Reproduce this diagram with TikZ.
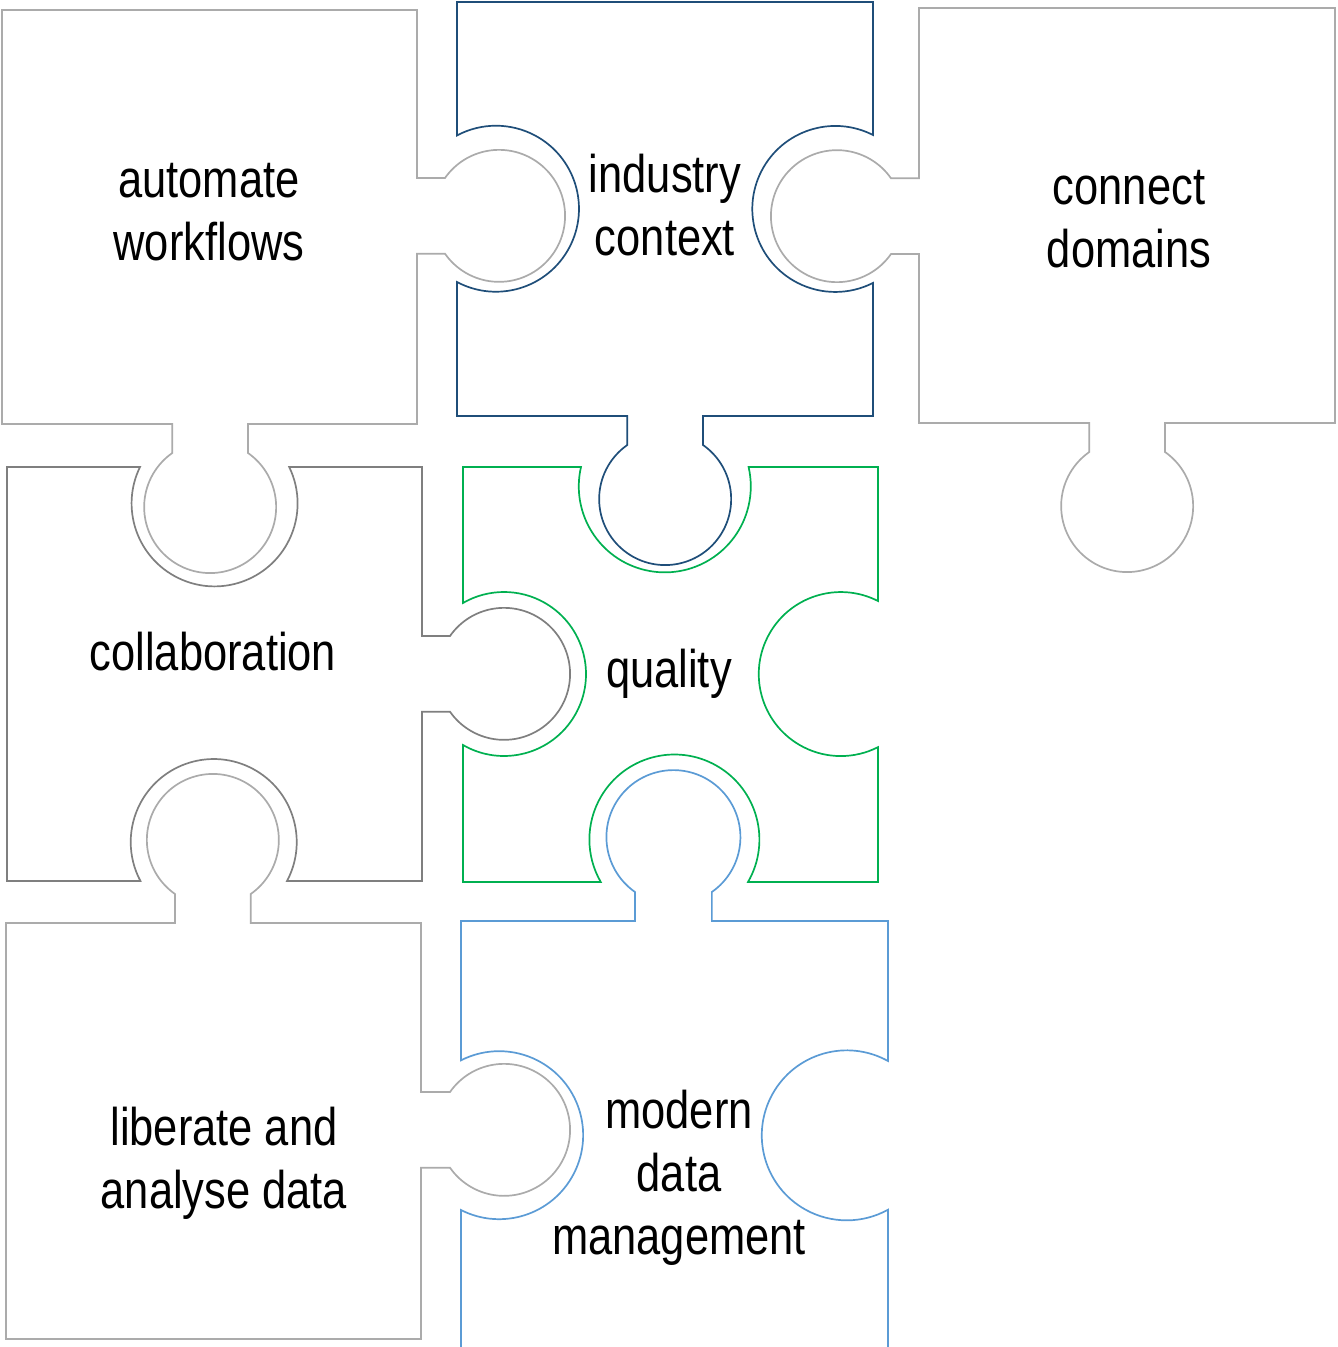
\documentclass[tikz,border=0pt]{standalone}
\usepackage{fontspec}
\newfontfamily\puzzlefont[FakeStretch=0.82]{Liberation Sans}
\definecolor{pzlight}{HTML}{ABABAB}
\definecolor{pzmid}{HTML}{7F7F7F}
\definecolor{pzdark}{HTML}{1F4E79}
\definecolor{pzgreen}{HTML}{00B050}
\definecolor{pzblue}{HTML}{5B9BD5}
\tikzset{
  piece/.style={line width=1.7pt, line join=miter},
  word/.style={align=center, inner sep=0pt, font=\puzzlefont\fontsize{53}{63}\selectfont}
}

\begin{document}
\begin{tikzpicture}[x=1pt, y=-1pt]
\useasboundingbox (0,0) rectangle (1338,1347);
% top row
\draw[piece, pzlight] (2,10) -- (417,10) -- (417,178) -- ++(28,0) arc[start angle=-145, end angle=145, radius=66] -- ++(-28,0) -- (417,424) -- (248,424) -- ++(0,29) arc[start angle=-55, end angle=235, radius=66] -- ++(0,-29) -- (2,424) -- cycle;
\draw[piece, pzdark] (457,2) -- (873,2) -- (873,135) arc[start angle=-63, end angle=-297, radius=83] -- (873,416) -- (703,416) -- ++(0,29) arc[start angle=-55, end angle=235, radius=66] -- ++(0,-29) -- (457,416) -- (457,282) arc[start angle=118, end angle=-118, radius=83] -- cycle;
\draw[piece, pzlight] (919,8) -- (1335,8) -- (1335,423) -- (1165,423) -- ++(0,29) arc[start angle=-55, end angle=235, radius=66] -- ++(0,-29) -- (919,423) -- (919,254) -- ++(-28,0) arc[start angle=35, end angle=325, radius=66] -- ++(28,0) -- cycle;
% middle row
\draw[piece, pzmid] (7,467) -- (140,467) arc[start angle=206, end angle=-26, radius=83] -- (422,467) -- (422,636) -- ++(28,0) arc[start angle=-145, end angle=145, radius=66] -- ++(-28,0) -- (422,881) -- (287,881) arc[start angle=28, end angle=-208, radius=83] -- (7,881) -- cycle;
\draw[piece, pzgreen] (463,467) -- (581,467) arc[start angle=193, end angle=-13, radius=86] -- (878,467) -- (878,601) arc[start angle=-63, end angle=-297, radius=82] -- (878,882) -- (748,882) arc[start angle=30, end angle=-210, radius=85] -- (463,882) -- (463,745) arc[start angle=120, end angle=-120, radius=82] -- cycle;
% bottom row
\draw[piece, pzlight] (6,923) -- (175,923) -- ++(0,-29) arc[start angle=125, end angle=415, radius=66] -- ++(0,29) -- (421,923) -- (421,1092) -- ++(29,0) arc[start angle=-145, end angle=145, radius=66] -- ++(-29,0) -- (421,1339) -- (6,1339) -- cycle;
\draw[piece, pzblue] (461,1347) -- (461,1210) arc[start angle=117, end angle=-117, radius=84] -- (461,921) -- (635,921) -- ++(0,-29) arc[start angle=125, end angle=415, radius=67] -- ++(0,29) -- (888,921) -- (888,1061) arc[start angle=-61, end angle=-299, radius=85] -- (888,1347);
% labels
\node[word] (automate) at (209,212) {automate\\workflows};
\node[word] (industry) at (665,205) {industry\\context};
\node[word] (connect) at (1129,219) {connect\\domains};
\node[word] (collab) at (213,652) {collaboration};
\node[word] (quality) at (669,674) {quality};
\node[word] (liberate) at (224,1163) {liberate and\\analyse data};
\node[word] (modern) at (679,1178) {modern\\data\\management};
\end{tikzpicture}
\end{document}
